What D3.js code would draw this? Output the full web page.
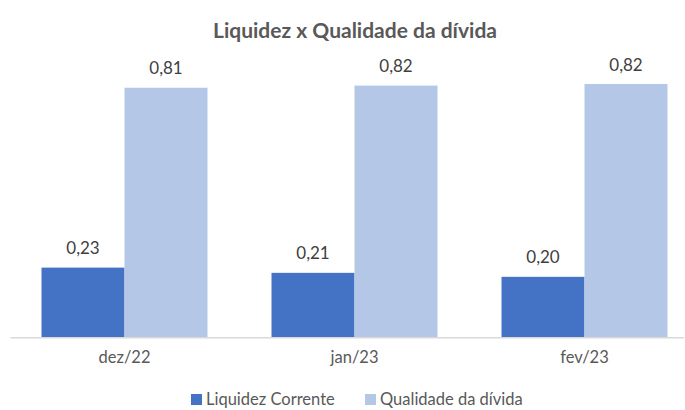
<!DOCTYPE html>
<html>
<head>
<meta charset="utf-8">
<script src="https://cdn.jsdelivr.net/npm/d3@7"></script>
<style>
  html, body { margin: 0; padding: 0; background: #ffffff; }
  svg { display: block; font-family: Lato, "Open Sans", sans-serif; }
</style>
</head>
<body>
<svg id="chart" width="685" height="410"></svg>
<script>
const categories = ["dez/22", "jan/23", "fev/23"];
const seriesNames = ["Liquidez Corrente", "Qualidade da dívida"];
const liquidezCorrente = [0.226, 0.209, 0.196];
const qualidadeDivida = [0.812, 0.819, 0.824];
const seriesColors = ["#4472C4", "#B4C7E7"];
const title = "Liquidez x Qualidade da dívida";

const svg = d3.select("#chart");
const baseline = 337;

const x0 = d3.scaleBand().domain(categories).range([9.5, 699.5])
  .paddingInner(64 / 230).paddingOuter(32 / 230);
const x1 = d3.scaleBand().domain([0, 1]).range([0, x0.bandwidth()]).padding(0);
const y = d3.scaleLinear().domain([0, 1]).range([baseline, baseline - 307]);

const fmt = v => v.toFixed(2).replace(".", ",");

// title
svg.append("text")
  .attr("x", 355).attr("y", 38)
  .attr("text-anchor", "middle")
  .attr("font-size", 21).attr("font-weight", "bold")
  .attr("fill", "#595959")
  .text(title);

const data = categories.map((c, i) => ({ cat: c, vals: [liquidezCorrente[i], qualidadeDivida[i]] }));

const groups = svg.append("g").selectAll("g").data(data).join("g")
  .attr("transform", d => `translate(${x0(d.cat)},0)`);

groups.selectAll("rect").data(d => d.vals.map((v, k) => ({ v, k }))).join("rect")
  .attr("x", d => x1(d.k))
  .attr("y", d => y(d.v))
  .attr("width", x1.bandwidth())
  .attr("height", d => y(0) - y(d.v))
  .attr("fill", d => seriesColors[d.k]);

groups.selectAll("text.lbl").data(d => d.vals.map((v, k) => ({ v, k }))).join("text")
  .attr("class", "lbl")
  .attr("x", d => x1(d.k) + x1.bandwidth() / 2)
  .attr("y", d => y(d.v) - 13.5)
  .attr("text-anchor", "middle")
  .attr("font-size", 17)
  .attr("fill", "#404040")
  .text(d => fmt(d.v));

// x axis
const xAxis = d3.axisBottom(x0).tickSize(0).tickPadding(14);
const ax = svg.append("g").attr("transform", `translate(0,${baseline})`).call(xAxis);
ax.select(".domain").remove();
ax.selectAll("text").attr("font-size", 16.5).attr("fill", "#595959")
  .attr("font-family", "Lato, 'Open Sans', sans-serif");
svg.append("line")
  .attr("x1", 10.5).attr("x2", 684)
  .attr("y1", baseline + 0.75).attr("y2", baseline + 0.75)
  .attr("stroke", "#d9d9d9").attr("stroke-width", 1.5);

// legend
const legendX = [191, 365];
const lg = svg.append("g").selectAll("g").data(seriesNames).join("g")
  .attr("transform", (d, i) => `translate(${legendX[i]},394)`);
lg.append("rect").attr("width", 11).attr("height", 11).attr("fill", (d, i) => seriesColors[i]);
lg.append("text").attr("x", 15).attr("y", 11)
  .attr("font-size", 16.5).attr("fill", "#595959")
  .text(d => d);
</script>
</body>
</html>
